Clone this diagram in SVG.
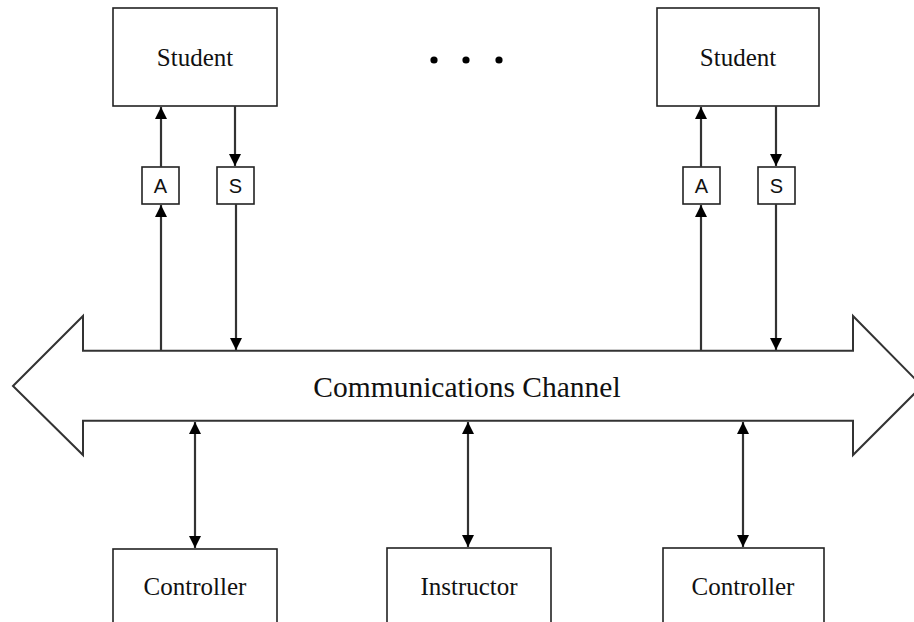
<svg xmlns="http://www.w3.org/2000/svg" width="914" height="622" viewBox="0 0 914 622">
<style>
.box{fill:#fff;stroke:#222;stroke-width:1.6}
.lbl{font-family:"Liberation Serif","Times New Roman",serif;font-size:25px;fill:#111;text-anchor:middle}
.sm{font-family:"Liberation Sans",Arial,sans-serif;font-size:20px;fill:#111;text-anchor:middle}
.ln{stroke:#333;stroke-width:2.2;fill:none}
</style>
<defs>
<marker id="ah" viewBox="0 0 10 10" refX="10" refY="5" markerWidth="5.5" markerHeight="5.5" orient="auto-start-reverse" markerUnits="strokeWidth">
<path d="M0,0 L10,5 L0,10 z" fill="#000"/>
</marker>
</defs>
<g id="channel">
<polygon points="13,386 83,316 83,350.7 853,350.7 853,316 922,386 853,455 853,420.7 83,420.7 83,455" fill="#fff" stroke="#333" stroke-width="2"/>
<text x="467" y="397" class="lbl" style="font-size:29.5px">Communications Channel</text>
</g>
<g id="student1">
<rect class="box" x="113" y="8" width="164" height="98"/>
<text class="lbl" x="195" y="66">Student</text>
</g>
<g id="a1">
<rect class="box" x="142" y="167" width="37" height="37"/>
<text class="sm" x="160.5" y="193">A</text>
</g>
<g id="s1">
<rect class="box" x="217" y="167" width="37" height="37"/>
<text class="sm" x="235.5" y="193">S</text>
</g>
<g id="student2">
<rect class="box" x="657" y="8" width="162" height="98"/>
<text class="lbl" x="738" y="66">Student</text>
</g>
<g id="a2">
<rect class="box" x="683" y="167" width="37" height="37"/>
<text class="sm" x="701.5" y="193">A</text>
</g>
<g id="s2">
<rect class="box" x="758" y="167" width="37" height="37"/>
<text class="sm" x="776.5" y="193">S</text>
</g>
<g id="dots" fill="#000">
<circle cx="434" cy="60" r="3.6"/>
<circle cx="466" cy="60" r="3.6"/>
<circle cx="499" cy="60" r="3.6"/>
</g>
<g id="controller1">
<rect class="box" x="113" y="549" width="164" height="80"/>
<text class="lbl" x="195" y="595">Controller</text>
</g>
<g id="instructor">
<rect class="box" x="387" y="548" width="164" height="80"/>
<text class="lbl" x="469" y="595">Instructor</text>
</g>
<g id="controller2">
<rect class="box" x="663" y="548" width="161" height="80"/>
<text class="lbl" x="743" y="595">Controller</text>
</g>
<g id="connectors">
<line class="ln" x1="161" y1="167" x2="161" y2="107" marker-end="url(#ah)"/>
<line class="ln" x1="235" y1="106" x2="235" y2="166" marker-end="url(#ah)"/>
<line class="ln" x1="161" y1="350" x2="161" y2="205" marker-end="url(#ah)"/>
<line class="ln" x1="236" y1="204" x2="236" y2="350" marker-end="url(#ah)"/>
<line class="ln" x1="701" y1="167" x2="701" y2="107" marker-end="url(#ah)"/>
<line class="ln" x1="776" y1="106" x2="776" y2="166" marker-end="url(#ah)"/>
<line class="ln" x1="701" y1="350" x2="701" y2="205" marker-end="url(#ah)"/>
<line class="ln" x1="776" y1="204" x2="776" y2="350" marker-end="url(#ah)"/>
<line class="ln" x1="195" y1="422" x2="195" y2="548" marker-start="url(#ah)" marker-end="url(#ah)"/>
<line class="ln" x1="468" y1="422" x2="468" y2="547" marker-start="url(#ah)" marker-end="url(#ah)"/>
<line class="ln" x1="743" y1="422" x2="743" y2="547" marker-start="url(#ah)" marker-end="url(#ah)"/>
</g>
</svg>
